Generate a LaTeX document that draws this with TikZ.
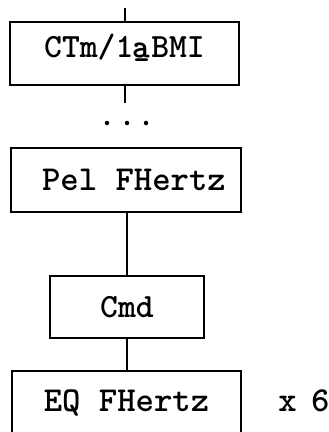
\documentclass[tikz,border=0pt]{standalone}
\begin{document}
\begin{tikzpicture}[x=1pt,y=-1pt,
  blk/.style={draw,line width=1.4pt,inner sep=0pt,font=\ttfamily\bfseries\fontsize{34}{34}\selectfont},
  big/.style={font=\ttfamily\bfseries\fontsize{35}{35}\selectfont},
  wire/.style={line width=1.4pt},
  dotmark/.style={circle,fill,inner sep=0pt,minimum size=4.5pt}]
\useasboundingbox (0,0) rectangle (329,432);
\node[blk,minimum width=229pt,minimum height=63pt] (b1) at (124.5,53.5) {CTm/1\makebox[0.525em][c]{\raisebox{-0.45em}{\scalebox{1.4}{ª}}}BMI};
\node[blk,big,minimum width=230pt,minimum height=64pt] (b2) at (126,180) {\hspace*{16pt}Pel FHertz};
\node[blk,minimum width=154pt,minimum height=62pt] (b3) at (127,307) {Cmd};
\node[blk,big,minimum width=229pt,minimum height=64pt] (b4) at (126.5,403) {EQ FHertz};
\node[inner sep=0pt,big] (x6) at (304,401) {x\kern-4pt\ 6};
\coordinate (top) at (125,8);
\coordinate (cont) at (125,103);
\draw[wire] (top) -- (b1.north -| top);
\draw[wire] (b1.south -| cont) -- (cont);
\node[dotmark] (d1) at (107,123) {};
\node[dotmark] (d2) at (127,123) {};
\node[dotmark] (d3) at (146,123) {};
\draw[wire] (b2.south -| b3.north) -- (b3.north);
\draw[wire] (b3.south) -- (b4.north -| b3.south);
\end{tikzpicture}
\end{document}
